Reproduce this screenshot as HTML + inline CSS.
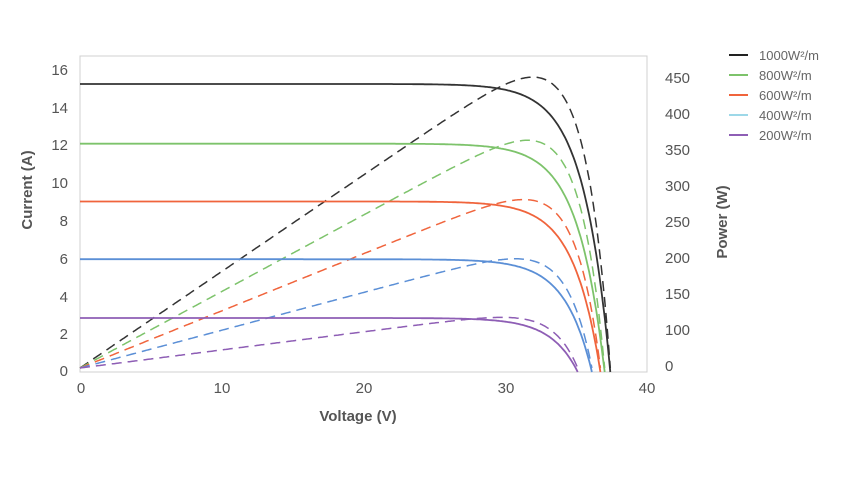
<!DOCTYPE html>
<html><head><meta charset="utf-8"><style>
html,body{margin:0;padding:0;background:#fff;}
svg{display:block;}
text{font-family:"Liberation Sans Narrow","Liberation Sans",sans-serif;fill:#555;}
.t{font-size:15px;}
.lg{font-family:"Liberation Sans",sans-serif;font-size:13px;fill:#666;}
</style></head><body>
<svg id="s" width="842" height="496" viewBox="0 0 842 496" xmlns="http://www.w3.org/2000/svg">
<rect x="80" y="56" width="567" height="316" fill="none" stroke="#d0d0d0" stroke-width="1"/>
<g class="t" text-anchor="end">
<text x="68" y="75">16</text><text x="68" y="113">14</text><text x="68" y="150">12</text>
<text x="68" y="188">10</text><text x="68" y="226">8</text><text x="68" y="264">6</text>
<text x="68" y="302">4</text><text x="68" y="339">2</text><text x="68" y="376">0</text>
</g>
<g class="t" text-anchor="start">
<text x="665" y="83">450</text><text x="665" y="119">400</text><text x="665" y="155">350</text>
<text x="665" y="191">300</text><text x="665" y="227">250</text><text x="665" y="263">200</text>
<text x="665" y="299">150</text><text x="665" y="335">100</text><text x="665" y="371">0</text>
</g>
<g class="t" text-anchor="middle">
<text x="81" y="393">0</text><text x="222" y="393">10</text><text x="364" y="393">20</text>
<text x="506" y="393">30</text><text x="647" y="393">40</text>
</g>
<text x="358" y="421" text-anchor="middle" style="font-size:15px;font-weight:bold;">Voltage (V)</text>
<text transform="translate(32,190) rotate(-90)" text-anchor="middle" style="font-size:15px;font-weight:bold;">Current (A)</text>
<text transform="translate(727,222) rotate(-90)" text-anchor="middle" style="font-size:15px;font-weight:bold;">Power (W)</text>
<g id="curves"></g>
<g stroke-width="2">
<line x1="729" y1="55" x2="748" y2="55" stroke="#222"/>
<line x1="729" y1="75" x2="748" y2="75" stroke="#7dc36b"/>
<line x1="729" y1="95" x2="748" y2="95" stroke="#f0643c"/>
<line x1="729" y1="115" x2="748" y2="115" stroke="#9dd8e8"/>
<line x1="729" y1="135" x2="748" y2="135" stroke="#8e5eb5"/>
</g>
<text class="lg" x="759" y="60">1000W²/m</text>
<text class="lg" x="759" y="80">800W²/m</text>
<text class="lg" x="759" y="100">600W²/m</text>
<text class="lg" x="759" y="120">400W²/m</text>
<text class="lg" x="759" y="140">200W²/m</text>
</svg>
<script>
var series=[[15.2,37.4,"#333"],[12.05,37.0,"#7dc36b"],[9.0,36.7,"#f0643c"],[5.95,36.1,"#5b8fd6"],[2.85,35.1,"#8e5eb5"]];
var g=document.getElementById("curves"),a=1.9,h="";
function X(v){return 80+v*14.18;}
series.forEach(function(s){
 var isc=s[0],voc=s[1],c=s[2],pi=[],pp=[];
 for(var v=0;v<=voc+0.001;v+=0.1){
  var vv=Math.min(v,voc);
  var i=isc*(1-Math.exp((vv-voc)/a))/(1-Math.exp(-voc/a));
  if(i<0)i=0;
  pi.push(X(vv).toFixed(1)+","+(372-i*18.95).toFixed(1));
  pp.push(X(vv).toFixed(1)+","+(368-vv*i*0.635).toFixed(1));
 }
 h+='<polyline points="'+pi.join(" ")+'" fill="none" stroke="'+c+'" stroke-width="1.8"/>';
 h+='<polyline points="'+pp.join(" ")+'" fill="none" stroke="'+c+'" stroke-width="1.5" stroke-dasharray="10,6"/>';
});
g.innerHTML=h;
</script>
</body></html>
